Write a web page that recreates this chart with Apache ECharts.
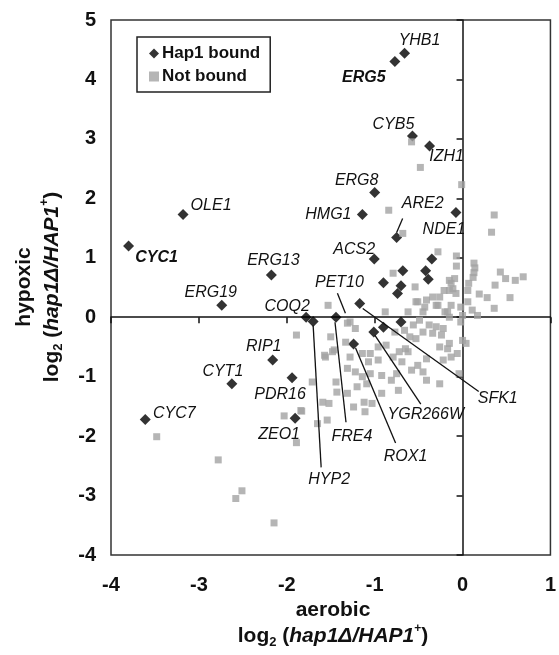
<!DOCTYPE html>
<html>
<head>
<meta charset="utf-8">
<script src="https://cdn.jsdelivr.net/npm/echarts@6/dist/echarts.min.js"></script>
<style>html,body{margin:0;padding:0;background:#fff}#c{width:559px;height:655px}</style>
</head>
<body>
<div id="c"></div>
<script>
// ---------------- DATA ----------------
const xTicks = [-4, -3, -2, -1, 0, 1];
const yTicks = [-4, -3, -2, -1, 0, 1, 2, 3, 4, 5];
const seriesNames = ['Hap1 bound', 'Not bound'];

// Hap1-bound genes (black diamonds): [aerobic, hypoxic]
const boundPoints = [
  [-0.66, 4.44], [-0.77, 4.30], [-0.57, 3.05], [-0.375, 2.88], [-1.00, 2.10],
  [-3.18, 1.73], [-1.14, 1.73], [-0.075, 1.76], [-0.75, 1.34], [-3.80, 1.20],
  [-1.005, 0.98], [-0.35, 0.98], [-0.68, 0.78], [-0.42, 0.78], [-0.39, 0.64],
  [-0.90, 0.58], [-0.70, 0.53], [-0.74, 0.40], [-2.175, 0.71], [-2.74, 0.20],
  [-1.17, 0.23], [-1.78, 0.00], [-1.70, -0.07], [-1.44, 0.00], [-0.70, -0.08],
  [-0.90, -0.17], [-1.01, -0.25], [-1.24, -0.45], [-2.16, -0.72], [-1.94, -1.02],
  [-2.625, -1.12], [-3.61, -1.72], [-1.905, -1.70]
];

// Not bound genes (grey squares): [aerobic, hypoxic]
const notBoundPoints = [
  [-0.58, 2.95], [-0.48, 2.52], [-0.01, 2.23], [-0.84, 1.80], [0.36, 1.72], [0.33, 1.43],
  [-0.68, 1.41], [-0.28, 1.10], [-0.07, 1.03], [-0.07, 0.86], [0.13, 0.91], [0.14, 0.83],
  [0.13, 0.75], [0.12, 0.67], [0.43, 0.76], [0.49, 0.65], [0.60, 0.62], [0.69, 0.68],
  [0.37, 0.54], [0.07, 0.57], [-0.09, 0.65], [-0.13, 0.57], [-0.15, 0.45], [-0.075, 0.40],
  [0.06, 0.45], [0.19, 0.39], [0.28, 0.33], [0.54, 0.33], [0.36, 0.15], [-0.26, 0.34],
  [-0.28, 0.20], [-0.17, 0.09], [-0.15, 0.00], [-0.02, 0.17], [0.00, 0.03], [0.06, 0.26],
  [0.11, 0.12], [0.17, 0.03], [-0.02, -0.08], [-0.22, -0.19], [-0.24, -0.30], [0.00, -0.39],
  [0.04, -0.44], [-0.79, 0.74], [-0.54, 0.51], [-0.51, 0.26], [-0.43, 0.17], [-0.30, 0.20],
  [-0.34, 0.34], [-0.21, 0.45], [-0.15, 0.62], [-0.11, 0.48], [-0.20, 0.09], [-0.13, 0.20],
  [-1.53, 0.20], [-0.53, 0.26], [-0.41, 0.29], [-0.88, 0.09], [-0.62, 0.09], [-0.45, 0.09],
  [-1.28, -0.08], [-1.22, -0.19], [-1.31, -0.10], [-0.77, -0.25], [-0.66, -0.22], [-0.56, -0.13],
  [-0.49, -0.05], [-0.45, -0.25], [-0.38, -0.13], [-0.34, -0.27], [-0.60, -0.33], [-0.53, -0.36],
  [-0.30, -0.16], [-0.15, -0.44], [-0.26, -0.50], [-0.17, -0.53], [-0.06, -0.61], [-0.13, -0.67],
  [-0.22, -0.72], [-0.41, -0.70], [-0.51, -0.81], [-0.58, -0.89], [-0.45, -0.92], [-0.41, -1.06],
  [-0.26, -1.12], [-0.04, -0.95], [-0.62, -0.58], [-0.65, -0.53], [-0.72, -0.58], [-0.87, -0.47],
  [-0.96, -0.50], [-1.05, -0.61], [-1.33, -0.42], [-1.56, -0.67], [-1.46, -0.55], [-1.50, -0.33],
  [-1.89, -0.30], [-1.48, -0.58], [-1.57, -0.64], [-1.28, -0.67], [-1.14, -0.61], [-1.07, -0.75],
  [-0.96, -0.72], [-0.79, -0.67], [-0.69, -0.75], [-1.31, -0.86], [-1.22, -0.92], [-1.14, -1.00],
  [-1.05, -0.95], [-0.92, -0.98], [-0.81, -1.06], [-0.75, -0.95], [-1.71, -1.09], [-1.44, -1.09],
  [-1.20, -1.17], [-1.09, -1.12], [-1.43, -1.26], [-1.31, -1.28], [-0.92, -1.28], [-0.73, -1.23],
  [-1.59, -1.43], [-1.52, -1.45], [-1.24, -1.51], [-1.12, -1.43], [-1.03, -1.45], [-1.11, -1.59],
  [-1.84, -1.57], [-1.65, -1.79], [-1.54, -1.73], [-2.03, -1.66], [-1.83, -1.58], [-1.89, -2.11],
  [-3.48, -2.01], [-2.78, -2.40], [-2.51, -2.92], [-2.58, -3.05], [-2.145, -3.46]
];

// Labelled genes and the point each names
const geneNames = ['YHB1', 'ERG5', 'CYB5', 'IZH1', 'ERG8', 'HMG1', 'NDE1', 'ARE2', 'ACS2', 'OLE1',
  'CYC1', 'ERG13', 'ERG19', 'COQ2', 'RIP1', 'CYT1', 'PDR16', 'CYC7', 'ZEO1', 'HYP2',
  'FRE4', 'ROX1', 'YGR266W', 'SFK1', 'PET10'];
const genePoints = [
  [-0.66, 4.44], [-0.77, 4.30], [-0.57, 3.05], [-0.375, 2.88], [-1.00, 2.10],
  [-1.14, 1.73], [-0.075, 1.76], [-0.75, 1.34], [-1.005, 0.98], [-3.18, 1.73],
  [-3.80, 1.20], [-2.175, 0.71], [-2.74, 0.20], [-1.78, 0.00], [-2.16, -0.72],
  [-2.625, -1.12], [-1.94, -1.02], [-3.61, -1.72], [-1.905, -1.70], [-1.70, -0.07],
  [-1.44, 0.00], [-1.24, -0.45], [-1.01, -0.25], [-1.17, 0.23], [-1.31, -0.10]
];
const boldGenes = ['ERG5', 'CYC1'];

// ---------------- LAYOUT (pixel offsets of labels / leader lines from their point) ----------------
const labelLayout = {
  YHB1: { dx: 15, dy: -13 }, ERG5: { dx: -31, dy: 16 }, CYB5: { dx: -19, dy: -11 },
  IZH1: { dx: 17, dy: 11 }, ERG8: { dx: -18, dy: -12 }, HMG1: { dx: -34, dy: 0 },
  NDE1: { dx: -12, dy: 17 }, ARE2: { dx: 26, dy: -34, line: [6, -19, 0, -5] },
  ACS2: { dx: -20, dy: -9 }, OLE1: { dx: 28, dy: -9 }, CYC1: { dx: 28, dy: 12 },
  ERG13: { dx: 2, dy: -14 }, ERG19: { dx: -11, dy: -13 }, COQ2: { dx: -19, dy: -11 },
  RIP1: { dx: -9, dy: -13 }, CYT1: { dx: -9, dy: -12 }, PDR16: { dx: -12, dy: 17 },
  CYC7: { dx: 29, dy: -6 }, ZEO1: { dx: -16, dy: 16 },
  HYP2: { dx: 16, dy: 158, line: [0, 4, 8, 146] },
  FRE4: { dx: 16, dy: 119, line: [-1, 5, 10, 105] },
  ROX1: { dx: 52, dy: 113, line: [2, 4, 42, 99] },
  YGR266W: { dx: 52, dy: 82, line: [1, 3, 47, 72] },
  SFK1: { dx: 138, dy: 95, line: [3, 5, 119, 88] },
  PET10: { dx: -8, dy: -41, line: [-10, -30, -2, -10] }
};

const FONT = 'Liberation Sans, Arial, Helvetica, sans-serif';
const annotData = genePoints.map((p, i) => [p[0], p[1], i]);

const chart = echarts.init(document.getElementById('c'), null, { renderer: 'canvas' });

const option = {
  backgroundColor: '#fff',
  animation: false,
  grid: { left: 111, right: 3, top: 20, bottom: 100, show: true, borderColor: '#333', borderWidth: 1.5, backgroundColor: 'transparent' },
  legend: {
    data: [{ name: seriesNames[0], icon: 'diamond' }, { name: seriesNames[1], icon: 'rect' }],
    orient: 'vertical', left: 137, top: 37,
    padding: [8, 10, 7, 12], itemGap: 6, itemWidth: 10, itemHeight: 10,
    borderColor: '#222', borderWidth: 1.5, backgroundColor: '#fff',
    textStyle: { fontFamily: FONT, fontWeight: 'bold', fontSize: 17, color: '#111', padding: [0, 0, 0, -2] }
  },
  xAxis: [
    { type: 'value', min: -4, max: 1, interval: 1, position: 'bottom',
      axisLine: { show: false, onZero: false }, axisTick: { show: false }, splitLine: { show: false },
      axisLabel: { fontFamily: FONT, fontWeight: 'bold', fontSize: 20, color: '#111', margin: 20,
        formatter: v => xTicks.includes(v) ? String(v) : '' } },
    { type: 'value', min: -4, max: 1, interval: 1, position: 'top',
      axisLine: { show: true, onZero: true, onZeroAxisIndex: 0, lineStyle: { color: '#111', width: 1.5 } },
      axisTick: { show: true, inside: true, length: 6, lineStyle: { color: '#111', width: 1.5 } },
      axisLabel: { show: false }, splitLine: { show: false } }
  ],
  yAxis: [
    { type: 'value', min: -4, max: 5, interval: 1, position: 'left',
      axisLine: { show: false, onZero: false }, axisTick: { show: false }, splitLine: { show: false },
      axisLabel: { fontFamily: FONT, fontWeight: 'bold', fontSize: 20, color: '#111', margin: 15,
        formatter: v => yTicks.includes(v) ? String(v) : '' } },
    { type: 'value', min: -4, max: 5, interval: 1, position: 'right',
      axisLine: { show: true, onZero: true, onZeroAxisIndex: 0, lineStyle: { color: '#111', width: 1.5 } },
      axisTick: { show: true, inside: true, length: 6, lineStyle: { color: '#111', width: 1.5 } },
      axisLabel: { show: false }, splitLine: { show: false } }
  ],
  series: [
    { name: seriesNames[0], type: 'scatter', xAxisIndex: 0, yAxisIndex: 0, data: boundPoints,
      symbol: 'diamond', symbolSize: 11, itemStyle: { color: '#000' }, z: 3 },
    { name: seriesNames[1], type: 'scatter', xAxisIndex: 0, yAxisIndex: 0, data: notBoundPoints,
      symbol: 'rect', symbolSize: 7, itemStyle: { color: '#a2a2a2' }, z: 4 },
    { name: 'labels', type: 'custom', xAxisIndex: 0, yAxisIndex: 0, data: annotData, silent: true, z: 5,
      encode: { x: 0, y: 1 }, clip: false,
      renderItem: function (params, api) {
        const p = api.coord([api.value(0), api.value(1)]);
        const name = geneNames[api.value(2)];
        const lay = labelLayout[name];
        const bold = boldGenes.includes(name);
        const children = [{
          type: 'text', x: p[0] + lay.dx, y: p[1] + lay.dy,
          style: { text: name, fill: '#111', font: (bold ? 'italic bold ' : 'italic ') + '16px ' + FONT,
            textAlign: 'center', textVerticalAlign: 'middle', align: 'center', verticalAlign: 'middle' }
        }];
        if (lay.line) {
          const l = lay.line;
          children.push({ type: 'line', shape: { x1: p[0] + l[0], y1: p[1] + l[1], x2: p[0] + l[2], y2: p[1] + l[3] },
            style: { stroke: '#111', lineWidth: 1.3 } });
        }
        return { type: 'group', children: children };
      }
    }
  ],
  graphic: [
    { type: 'text', x: 24, y: 287, rotation: Math.PI / 2,
      style: { text: 'hypoxic', font: 'bold 21px ' + FONT, fill: '#111', textAlign: 'center', textVerticalAlign: 'middle', align: 'center', verticalAlign: 'middle' } },
    { type: 'text', x: 52, y: 287, rotation: Math.PI / 2,
      style: { text: '{a|log}{s|2}{a| (}{i|hap1Δ/HAP1}{p|+}{a|)}', fill: '#111', textAlign: 'center', textVerticalAlign: 'middle', align: 'center', verticalAlign: 'middle',
        rich: {
          a: { font: 'bold 21px ' + FONT, fill: '#111', lineHeight: 26, verticalAlign: 'middle' },
          i: { font: 'italic bold 21px ' + FONT, fill: '#111', lineHeight: 26, verticalAlign: 'middle' },
          s: { font: 'bold 13px ' + FONT, fill: '#111', lineHeight: 26, verticalAlign: 'bottom', padding: [0, 0, 0, 0] },
          p: { font: 'bold 12px ' + FONT, fill: '#111', lineHeight: 26, verticalAlign: 'top' }
        } } },
    { type: 'text', x: 333, y: 610,
      style: { text: 'aerobic', font: 'bold 21px ' + FONT, fill: '#111', textAlign: 'center', textVerticalAlign: 'middle', align: 'center', verticalAlign: 'middle' } },
    { type: 'text', x: 333, y: 636,
      style: { text: '{a|log}{s|2}{a| (}{i|hap1Δ/HAP1}{p|+}{a|)}', fill: '#111', textAlign: 'center', textVerticalAlign: 'middle', align: 'center', verticalAlign: 'middle',
        rich: {
          a: { font: 'bold 21px ' + FONT, fill: '#111', lineHeight: 26, verticalAlign: 'middle' },
          i: { font: 'italic bold 21px ' + FONT, fill: '#111', lineHeight: 26, verticalAlign: 'middle' },
          s: { font: 'bold 13px ' + FONT, fill: '#111', lineHeight: 26, verticalAlign: 'bottom' },
          p: { font: 'bold 12px ' + FONT, fill: '#111', lineHeight: 26, verticalAlign: 'top' }
        } } }
  ]
};
chart.setOption(option);
</script>
</body>
</html>
